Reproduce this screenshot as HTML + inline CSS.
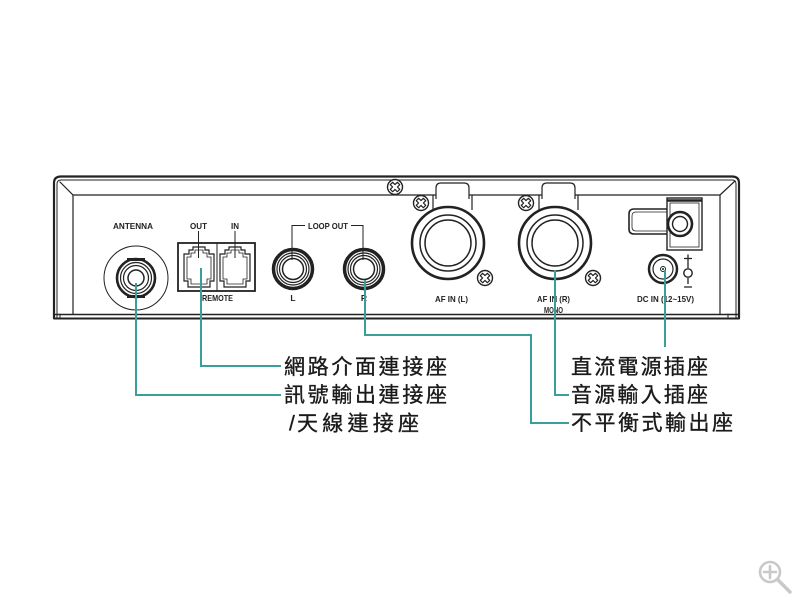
<!DOCTYPE html>
<html><head><meta charset="utf-8"><style>
html,body{margin:0;padding:0;background:#fff;}
svg{display:block;}
</style></head><body>
<svg width="800" height="600" viewBox="0 0 800 600" xmlns="http://www.w3.org/2000/svg">
<defs>
<g id="screw">
  <circle r="7.5" fill="#fff" stroke="#222" stroke-width="1.4"/>
  <path d="M-1.7,-5 H1.7 V-1.7 H5 V1.7 H1.7 V5 H-1.7 V1.7 H-5 V-1.7 H-1.7 Z" fill="#fff" stroke="#222" stroke-width="1.2" stroke-linejoin="round" transform="rotate(45)"/>
</g>
</defs>
<rect width="800" height="600" fill="#fff"/>

<!-- device frame -->
<g fill="none" stroke="#222" stroke-linecap="round">
  <path d="M54,318 L54,183 Q54,176.5 61,176.5 L732,176.5 Q739,176.5 739,183 L739,318" stroke-width="2.2"/>
  <path d="M57,318 L57,184 Q57,180 61,180 L732,180 Q736,180 736,184 L736,318" stroke-width="1"/>
  <path d="M60,182 L73,195 L720,195 L735,181" stroke-width="1.2"/>
  <path d="M73,195 L73,314" stroke-width="1.2"/>
  <path d="M720,195 L720,314" stroke-width="1.2"/>
  <path d="M54,314.5 L739,314.5" stroke-width="1.4"/>
  <path d="M54,318.5 L739,318.5" stroke-width="2"/>
  <path d="M60,314 V319 M728,314 V319" stroke-width="1"/>
</g>

<!-- top screw -->
<use href="#screw" x="395" y="187"/>

<!-- ANTENNA -->
<text x="133" y="229" font-family="Liberation Sans, sans-serif" font-weight="bold" font-size="8.5" text-anchor="middle" textLength="40" lengthAdjust="spacingAndGlyphs" fill="#222">ANTENNA</text>
<g fill="none" stroke="#222">
  <circle cx="136" cy="278" r="32" stroke-width="1"/>
  <circle cx="136" cy="278" r="19" stroke-width="2.6"/>
  <circle cx="136" cy="278" r="15.5" stroke-width="1.2"/>
  <circle cx="136" cy="278" r="12.5" stroke-width="1.2"/>
  <circle cx="136" cy="278" r="8" stroke-width="1.5"/>
</g>
<rect x="127" y="258" width="18" height="3" fill="#222"/>
<rect x="127" y="295" width="18" height="3" fill="#222"/>

<!-- labels -->
<g font-family="Liberation Sans, sans-serif" font-weight="bold" font-size="8.5" fill="#222">
  <text x="198.5" y="229" text-anchor="middle" textLength="17" lengthAdjust="spacingAndGlyphs">OUT</text>
  <text x="235" y="229" text-anchor="middle" textLength="8" lengthAdjust="spacingAndGlyphs">IN</text>
  <text x="217.5" y="301" text-anchor="middle" textLength="31" lengthAdjust="spacingAndGlyphs">REMOTE</text>
  <text x="328" y="229" text-anchor="middle" textLength="40" lengthAdjust="spacingAndGlyphs">LOOP OUT</text>
  <text x="293" y="301" text-anchor="middle">L</text>
  <text x="364" y="301" text-anchor="middle">R</text>
  <text x="451.5" y="302" text-anchor="middle" textLength="33" lengthAdjust="spacingAndGlyphs">AF IN (L)</text>
  <text x="553.5" y="302" text-anchor="middle" textLength="33" lengthAdjust="spacingAndGlyphs">AF IN (R)</text>
  <text x="553.5" y="313" text-anchor="middle" textLength="19" lengthAdjust="spacingAndGlyphs">MONO</text>
  <text x="665.5" y="302" text-anchor="middle" textLength="57" lengthAdjust="spacingAndGlyphs">DC IN (12~15V)</text>
</g>
<g fill="none" stroke="#222">
  <rect x="178" y="243" width="77" height="48" stroke-width="1.8"/>
  <path d="M193,247 H205 V250 H209 V254 H214 V281 H210 V287 H188 V281 H184 V254 H189 V250 H193 Z" stroke-width="1.2"/>
  <path d="M195,250 H203 V253 H207 V257 H211 V279 H207 V284 H191 V279 H187 V257 H191 V253 H195 Z" stroke-width="0.8"/>
  <path d="M229,247 H241 V250 H245 V254 H250 V281 H246 V287 H224 V281 H220 V254 H225 V250 H229 Z" stroke-width="1.2"/>
  <path d="M231,250 H239 V253 H243 V257 H247 V279 H243 V284 H227 V279 H223 V257 H227 V253 H231 Z" stroke-width="0.8"/>
  <path d="M217,243 V291" stroke-width="1"/>
  <path d="M198.5,231 V258 M235,231 V258" stroke-width="1"/>
  <path d="M292,260 V225.5 H305 M351,225.5 H363 V260" stroke-width="1"/>
  <circle cx="293" cy="269" r="19.5" stroke-width="3.5"/>
  <circle cx="293" cy="269" r="16" stroke-width="1.2"/>
  <circle cx="293" cy="269" r="13.5" stroke-width="1.2"/>
  <circle cx="293" cy="269" r="10.5" stroke-width="1.5"/>
  <circle cx="364" cy="269" r="19.5" stroke-width="3.5"/>
  <circle cx="364" cy="269" r="16" stroke-width="1.2"/>
  <circle cx="364" cy="269" r="13.5" stroke-width="1.2"/>
  <circle cx="364" cy="269" r="10.5" stroke-width="1.5"/>
</g>

<!-- XLR -->
<g fill="none" stroke="#222">
  <path d="M433,195 V210 M472,195 V210" stroke-width="1.2"/>
  <path d="M436,199 V188 Q436,183 441,183 H464 Q469,183 469,188 V199" fill="#fff" stroke-width="1.2"/>
  <circle cx="448" cy="243" r="36" fill="#fff" stroke-width="2.6"/>
  <circle cx="448" cy="243" r="28" stroke-width="1.5"/>
  <circle cx="448" cy="243" r="23" stroke-width="1.5"/>
  <path d="M539,195 V210 M578,195 V210" stroke-width="1.2"/>
  <path d="M542,199 V188 Q542,183 547,183 H570 Q575,183 575,188 V199" fill="#fff" stroke-width="1.2"/>
  <circle cx="555" cy="243" r="36" fill="#fff" stroke-width="2.6"/>
  <circle cx="555" cy="243" r="28" stroke-width="1.5"/>
  <circle cx="555" cy="243" r="23" stroke-width="1.5"/>
</g>
<use href="#screw" x="421" y="203"/>
<use href="#screw" x="485" y="278"/>
<use href="#screw" x="526" y="203"/>
<use href="#screw" x="593" y="278"/>

<!-- DC section -->
<g fill="none" stroke="#222">
  <path d="M670,209 H634 Q629,209 629,214 V229 Q629,234 634,234 H670" fill="#fff" stroke-width="1.6"/>
  <path d="M668,212 H636 Q632,212 632,216 V227 Q632,231 636,231 H668" stroke-width="0.8"/>
  <rect x="667" y="198" width="35" height="52" fill="#fff" stroke-width="1.4"/>
  <rect x="670" y="203" width="29" height="44" stroke-width="0.8"/>
  <path d="M667,200.5 H702" stroke-width="2.5"/>
  <circle cx="680" cy="224" r="12" fill="#fff" stroke-width="2.6"/>
  <circle cx="680" cy="224" r="7.5" stroke-width="1.4"/>
  <circle cx="663" cy="269" r="14" stroke-width="2.5"/>
  <circle cx="663" cy="269" r="10" stroke-width="1.2"/>
  <circle cx="663" cy="269" r="2.5" stroke-width="1"/>
  <path d="M684,258.5 H692 M688,254.5 V268 M688,278 V284 M684,287 H692" stroke-width="1.3"/>
  <circle cx="688" cy="273" r="4.2" stroke-width="1.4"/>
</g>
<circle cx="663" cy="269" r="1" fill="#222"/>

<!-- connectors -->
<g fill="none" stroke="#3a9e9b" stroke-width="2">
  <path d="M136,283 V395 H281"/>
  <path d="M201,268 V366 H281"/>
  <path d="M365,280 V335 H531 V423 H569"/>
  <path d="M555,270 V395 H569"/>
  <path d="M665,270 V347"/>
</g>

<!-- Chinese labels -->
<g font-family="'Liberation Sans','Noto Sans CJK TC',sans-serif" font-size="21" fill="#1a1a1a" stroke="#1a1a1a" stroke-width="0.35">
  <text x="284" y="374" textLength="163" lengthAdjust="spacing">網路介面連接座</text>
  <text x="284" y="402" textLength="163" lengthAdjust="spacing">訊號輸出連接座</text>
  <text x="289" y="430.5">/</text>
  <text x="297" y="430.5" textLength="122" lengthAdjust="spacing">天線連接座</text>
  <text x="571" y="374" textLength="137" lengthAdjust="spacing">直流電源插座</text>
  <text x="571" y="402" textLength="137" lengthAdjust="spacing">音源輸入插座</text>
  <text x="571" y="430" textLength="162" lengthAdjust="spacing">不平衡式輸出座</text>
</g>

<!-- magnifier icon -->
<g fill="none" stroke="#c9c9c9" stroke-width="2.6" stroke-linecap="round">
  <circle cx="770" cy="572" r="10"/>
  <path d="M777.5,579.5 L790,592" stroke-width="3.5"/>
  <path d="M770,566 V578 M764,572 H776"/>
</g>
</svg>
</body></html>
